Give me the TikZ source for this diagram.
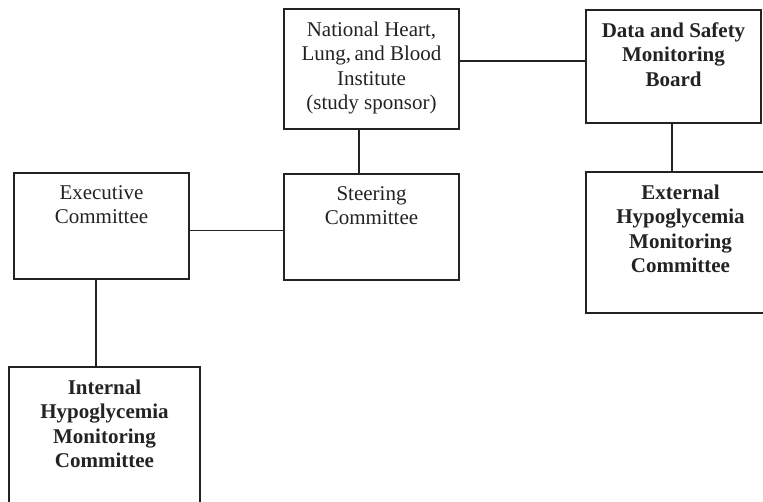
\documentclass[tikz,border=0pt]{standalone}
\usepackage{fontspec}
\setmainfont{Liberation Serif}
\definecolor{ink}{RGB}{35,35,35}
\begin{document}
\begin{tikzpicture}[x=1pt,y=-1pt,
  box/.style={draw=ink,line width=1.3pt,rectangle,inner sep=0pt},
  txt/.style={anchor=north,align=center,inner sep=0pt,text=ink,
    font={\fontsize{21}{24.5}\selectfont}},
  btxt/.style={txt,font={\fontsize{21}{24.5}\selectfont\bfseries}},
  link/.style={draw=ink,line width=1.3pt}]
\useasboundingbox (0,0) rectangle (763,501);
\clip (0,0) rectangle (763,501);
\fill[white] (0,0) rectangle (763,501);
% boxes
\node[box,minimum width=175pt,minimum height=120pt] (nhlbi) at (371.5,69) {};
\node[box,minimum width=175pt,minimum height=113pt] (dsmb) at (673.5,66.5) {};
\node[box,minimum width=175pt,minimum height=106pt] (steer) at (371.5,227) {};
\node[box,minimum width=175pt,minimum height=106pt] (exec) at (101.5,226) {};
\node[box,minimum width=189pt,minimum height=141pt] (ext) at (680.5,242.5) {};
\node[box,minimum width=191pt,minimum height=160pt] (int) at (104.5,447) {};
% texts
\node[txt] (tnhlbi) at ([yshift=-13pt]nhlbi.north) {National Heart,\\Lung,\thinspace and Blood\\Institute\\(study sponsor)};
\node[btxt] (tdsmb) at ([yshift=-13pt]dsmb.north) {Data and Safety\\Monitoring\\Board};
\node[txt] (tsteer) at ([yshift=-13pt]steer.north) {Steering\\Committee};
\node[txt] (texec) at ([yshift=-13pt]exec.north) {Executive\\Committee};
\node[btxt] (text) at ([yshift=-13pt]ext.north) {External\\Hypoglycemia\\Monitoring\\Committee};
\node[btxt] (tint) at ([yshift=-13pt]int.north) {Internal\\Hypoglycemia\\Monitoring\\Committee};
% connectors
\draw[link] ([yshift=8pt]nhlbi.east) -- ([yshift=8pt]nhlbi.east -| dsmb.west);
\draw[link] ([xshift=-12.5pt]nhlbi.south) -- ([xshift=-12.5pt]steer.north);
\draw[link] ([xshift=-1.5pt]dsmb.south) -- ([xshift=-1.5pt]dsmb.south |- ext.north);
\draw[link] ([yshift=-4.5pt]exec.east) -- ([yshift=-4.5pt]exec.east -| steer.west);
\draw[link] ([xshift=-5.5pt]exec.south) -- ([xshift=-5.5pt]exec.south |- int.north);
\end{tikzpicture}
\end{document}
